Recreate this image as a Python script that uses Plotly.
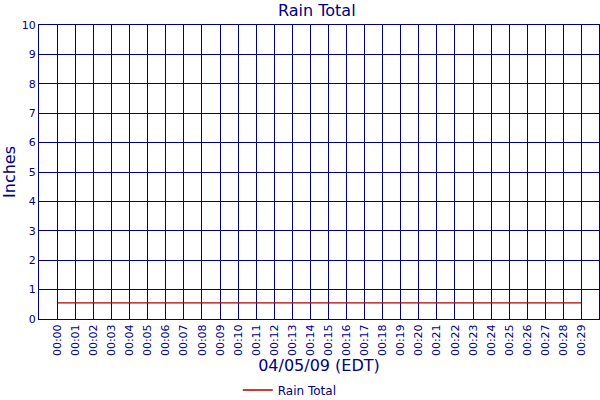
import plotly.graph_objects as go

# minutes on the x axis and the rain total reading at each one
minutes = ["00:%02d" % m for m in range(30)]
rain_total = [0.55, 0.55, 0.55, 0.55, 0.55, 0.55, 0.55, 0.55, 0.55, 0.55,
              0.55, 0.55, 0.55, 0.55, 0.55, 0.55, 0.55, 0.55, 0.55, 0.55,
              0.55, 0.55, 0.55, 0.55, 0.55, 0.55, 0.55, 0.55, 0.55, 0.55]
y_ticks = [0, 1, 2, 3, 4, 5, 6, 7, 8, 9, 10]

navy = "#000080"
font = "DejaVu Sans, Verdana, sans-serif"

fig = go.Figure()
fig.add_trace(go.Scatter(
    x=list(range(len(minutes))),
    y=rain_total,
    mode="lines",
    name="Rain Total",
    line=dict(color="#b00000", width=1.3)))

fig.update_layout(
    width=600, height=400,
    margin=dict(l=39, r=1, t=25, b=81, autoexpand=False),
    paper_bgcolor="white", plot_bgcolor="white",
    font=dict(family=font, color=navy),
    title=dict(text="Rain Total", xref="container", x=0.528, xanchor="center",
               yref="container", y=0.975, yanchor="middle",
               font=dict(size=16, color=navy)),
    showlegend=True,
    legend=dict(orientation="h", xref="container", x=0.483, xanchor="center",
                yref="container", y=0.025, yanchor="middle",
                font=dict(size=12, color=navy)),
)
fig.update_xaxes(
    automargin=False,
    range=[-1.02, 29.97],
    tickmode="array",
    tickvals=list(range(len(minutes))),
    ticktext=minutes,
    tickangle=-90,
    tickfont=dict(size=11, color=navy),
    showgrid=True, gridcolor=navy, gridwidth=1,
    showline=True, linecolor=navy, linewidth=1, mirror=True,
    zeroline=False, ticks="",
    title=dict(text="04/05/09 (EDT)", font=dict(size=16, color=navy), standoff=8),
)
fig.update_yaxes(
    automargin=False,
    range=[0, 10],
    tickmode="array",
    tickvals=y_ticks,
    tickfont=dict(size=11, color=navy),
    showgrid=True, gridcolor=navy, gridwidth=1,
    showline=True, linecolor=navy, linewidth=1, mirror=True,
    zeroline=False, ticks="",
    title=dict(text="Inches", font=dict(size=16, color=navy), standoff=6),
)

# page body has an 8px margin by default, drop it so the figure sits at 0,0
fig.write_html("out.html", config={"displayModeBar": False},
               post_script="document.body.style.margin='0';")
